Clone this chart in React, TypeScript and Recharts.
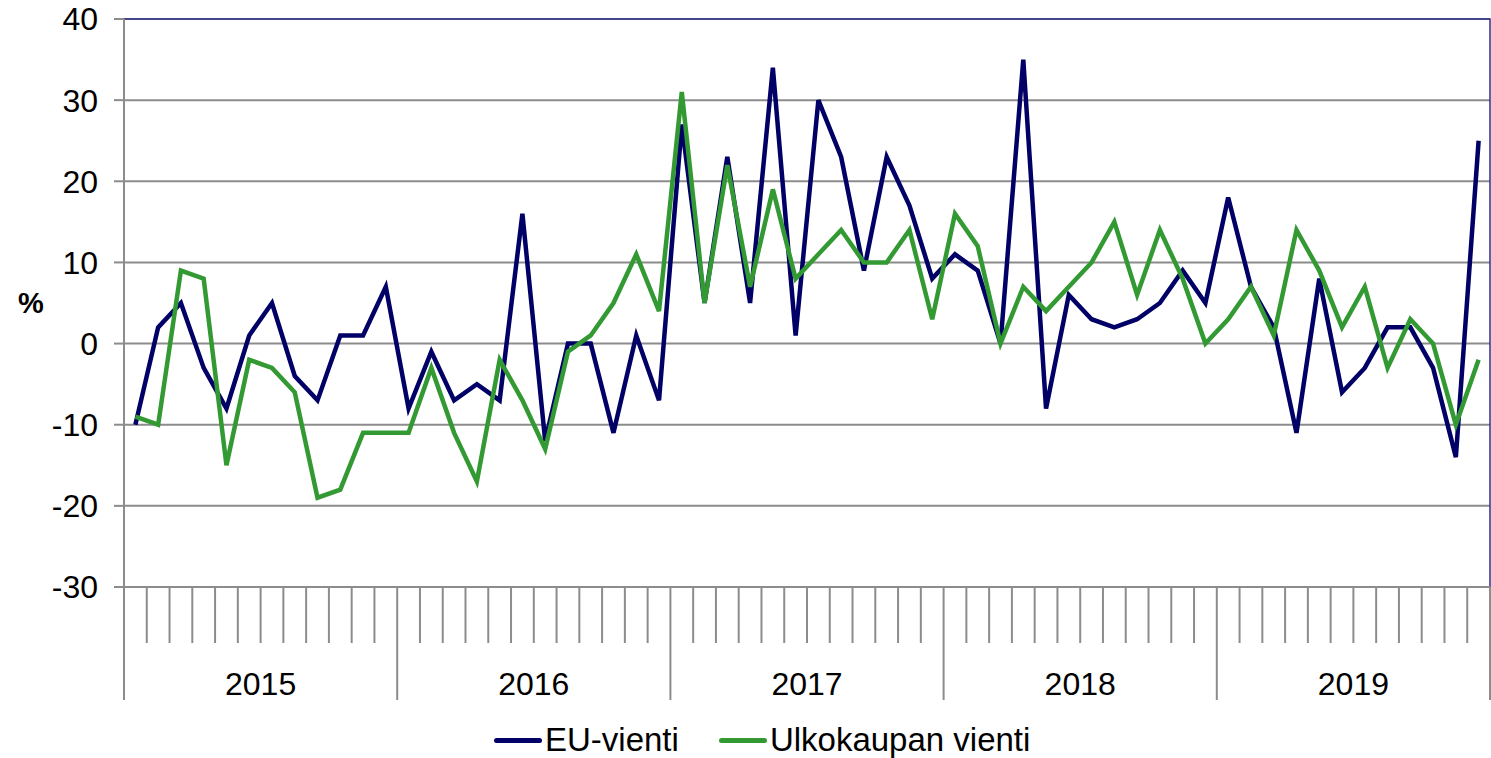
import React from "react";
import { CartesianGrid, Legend, Line, LineChart, ReferenceArea, XAxis, YAxis } from "recharts";

const NAVY = "#000066";
const GREEN = "#339933";
const GRID = "#8c8c8c";
const FONT = '"Liberation Sans", Arial, sans-serif';

const YEARS = ["2015", "2016", "2017", "2018", "2019"];

// kuukausittainen muutos, %
const EU_VIENTI = [
  -10, 2, 5, -3, -8, 1, 5, -4, -7, 1, 1, 7,
  -8, -1, -7, -5, -7, 16, -12, 0, 0, -11, 1, -7,
  27, 5, 23, 5, 34, 1, 30, 23, 9, 23, 17, 8,
  11, 9, 0, 35, -8, 6, 3, 2, 3, 5, 9, 5,
  18, 7, 2, -11, 8, -6, -3, 2, 2, -3, -14, 25,
];

const ULKOKAUPAN_VIENTI = [
  -9, -10, 9, 8, -15, -2, -3, -6, -19, -18, -11, -11,
  -11, -3, -11, -17, -2, -7, -13, -1, 1, 5, 11, 4,
  31, 5, 22, 7, 19, 8, 11, 14, 10, 10, 14, 3,
  16, 12, 0, 7, 4, 7, 10, 15, 6, 14, 8, 0,
  3, 7, 1, 14, 9, 2, 7, -3, 3, 0, -10, -2,
];

const Y_TICKS = [-30, -20, -10, 0, 10, 20, 30, 40];

const monthCount = EU_VIENTI.length;
const data = EU_VIENTI.map((v, i) => ({ x: i + 0.5, eu: v, ulko: ULKOKAUPAN_VIENTI[i] }));
const monthTicks = Array.from({ length: monthCount + 1 }, (_, i) => i);

function MonthTick(props: any) {
  const { x, y, payload } = props;
  const v = payload.value as number;
  const yearStart = v % 12 === 0;
  const mid = v % 12 === 6;
  return (
    <g>
      <line x1={x} y1={y} x2={x} y2={y + (yearStart ? 113 : 56)} stroke={GRID} strokeWidth={2} />
      {mid && (
        <text x={x} y={y + 97} textAnchor="middle" dominantBaseline="central" fontSize={32} fontFamily={FONT} fill="#000">
          {YEARS[Math.floor(v / 12)]}
        </text>
      )}
    </g>
  );
}

function LegendContent() {
  const items = [
    { name: "EU-vienti", color: NAVY },
    { name: "Ulkokaupan vienti", color: GREEN },
  ];
  return (
    <div style={{ display: "flex", alignItems: "center", height: 36, fontFamily: FONT, fontSize: 33, paddingLeft: 494 }}>
      {items.map((it, i) => (
        <div key={it.name} style={{ display: "flex", alignItems: "center", marginLeft: i ? 40 : 0 }}>
          <span style={{ width: 48, height: 5, background: it.color, borderRadius: 3, marginRight: 3 }} />
          <span style={{ color: "#000", lineHeight: "36px" }}>{it.name}</span>
        </div>
      ))}
    </div>
  );
}

export default function App() {
  return (
    <div style={{ position: "absolute", left: 0, top: 0, background: "#fff" }}>
      <LineChart width={1491} height={758} data={data} margin={{ top: 19, right: 1, left: 0, bottom: 0 }}>
        <CartesianGrid vertical={false} stroke={GRID} strokeWidth={2} />
        <ReferenceArea x1={0} x2={monthCount} y1={-30} y2={40} fill="none" stroke="#2e2e8c" strokeWidth={1.5} />
        <XAxis
          type="number"
          dataKey="x"
          domain={[0, monthCount]}
          ticks={monthTicks}
          interval={0}
          tick={<MonthTick />}
          tickLine={false}
          tickSize={0}
          tickMargin={0}
          height={135}
          axisLine={{ stroke: GRID, strokeWidth: 2 }}
        />
        <YAxis
          type="number"
          domain={[-30, 40]}
          ticks={Y_TICKS}
          interval={0}
          width={124}
          tickSize={10}
          tickMargin={16}
          tickLine={{ stroke: GRID, strokeWidth: 2 }}
          axisLine={{ stroke: GRID, strokeWidth: 2 }}
          tick={{ fontSize: 32, fill: "#000", fontFamily: FONT }}
          label={{ value: "%", position: "insideLeft", offset: 18, style: { fontWeight: "bold", fontSize: 29, fill: "#000", fontFamily: FONT } }}
        />
        <Legend verticalAlign="bottom" height={36} content={<LegendContent />} wrapperStyle={{ bottom: 0 }} />
        <Line type="linear" dataKey="eu" name="EU-vienti" stroke={NAVY} strokeWidth={4.5} dot={false} isAnimationActive={false} />
        <Line type="linear" dataKey="ulko" name="Ulkokaupan vienti" stroke={GREEN} strokeWidth={4.5} dot={false} isAnimationActive={false} />
      </LineChart>
    </div>
  );
}
